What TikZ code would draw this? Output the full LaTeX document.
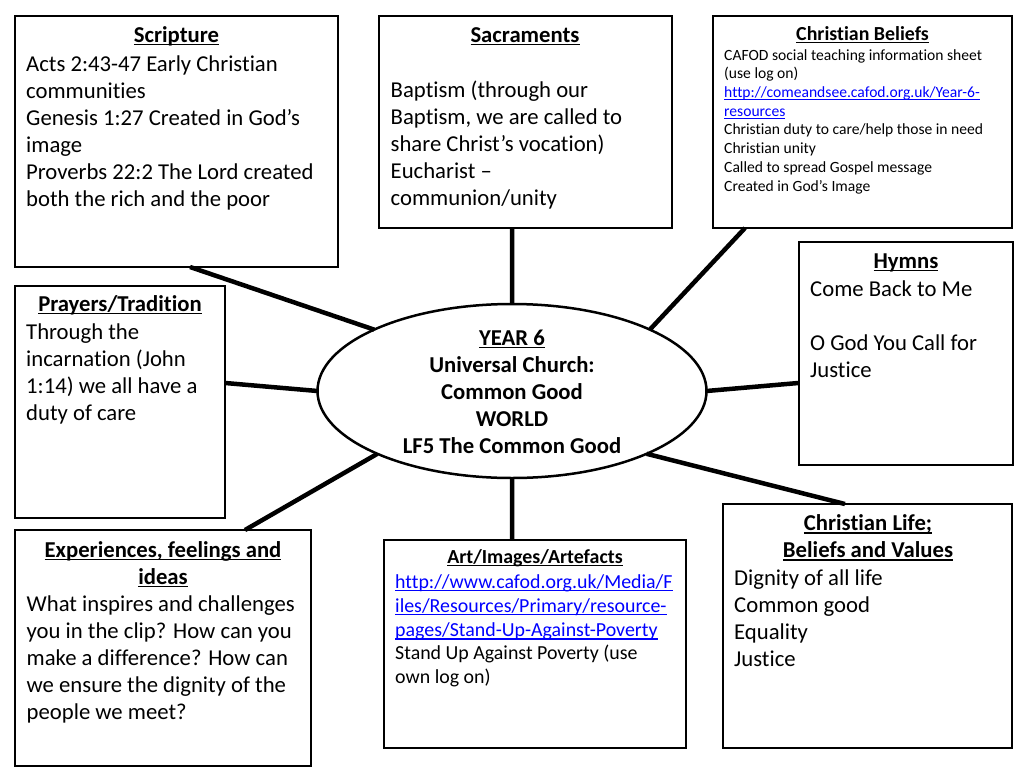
\documentclass[tikz,border=0pt]{standalone}
\usepackage{fontspec}
\setmainfont{Carlito}[Ligatures=NoCommon]
\usetikzlibrary{shapes.geometric,calc}
\definecolor{linkblue}{RGB}{0,0,255}
\newcommand\bigf{\fontsize{22.7}{27.05}\selectfont}
\newcommand\smallf{\fontsize{15.6}{18.7}\selectfont}
\newcommand\linkf{\fontsize{19.9}{24.2}\selectfont}
\newcommand\midf{\fontsize{19.9}{24}\selectfont}
\newcommand\uln[1]{\begingroup\setbox0=\hbox{#1}\rlap{\rule[-2.6pt]{\wd0}{1.3pt}}\box0\endgroup}
\begin{document}
\begin{tikzpicture}[x=1pt,y=-1pt,
  box/.style={draw, line width=2.8pt, fill=white, anchor=north west, inner sep=0, outer sep=0},
  conn/.style={line width=4.5pt},
  ttl/.style={font=\bigf\bfseries, anchor=base, inner sep=0},
  body/.style={font=\bigf, anchor=north west, align=left, inner sep=0},
  ctext/.style={font=\bigf\bfseries, anchor=north, align=center, inner sep=0}]
\fill[white] (0,0) rectangle (1024,768);
\useasboundingbox (0,0) rectangle (1024,768);
% boxes
\node[box, minimum width=323pt, minimum height=251pt] (scr) at (15,16) {};
\node[box, minimum width=293pt, minimum height=212pt] (sac) at (379,16) {};
\node[box, minimum width=299pt, minimum height=212pt] (bel) at (713,16) {};
\node[box, minimum width=214pt, minimum height=223pt] (hym) at (799,242) {};
\node[box, minimum width=210pt, minimum height=232pt] (pra) at (15,286) {};
\node[box, minimum width=296pt, minimum height=236pt] (exp) at (15,530) {};
\node[box, minimum width=302pt, minimum height=208pt] (art) at (384,540) {};
\node[box, minimum width=289pt, minimum height=244pt] (lif) at (723,504) {};
\node[draw, ellipse, line width=2.5pt, fill=white, minimum width=389pt, minimum height=174pt, inner sep=0, outer sep=0] (ell) at (512,391) {};
% connectors
\draw[conn] ($(scr.south west)!0.542!(scr.south east)$) -- (ell.156);
\draw[conn] ($(sac.south west)!0.454!(sac.south east)$) -- (ell.north);
\draw[conn] ($(bel.south west)!0.107!(bel.south east)$) -- (ell.24);
\draw[conn] ($(pra.north east)!0.418!(pra.south east)$) -- (ell.180);
\draw[conn] ($(hym.north west)!0.632!(hym.south west)$) -- (ell.0);
\draw[conn] ($(exp.north west)!0.777!(exp.north east)$) -- (ell.205);
\draw[conn] ($(art.north west)!0.424!(art.north east)$) -- (ell.south);
\draw[conn] ($(lif.north west)!0.422!(lif.north east)$) -- (ell.335);
% Scripture
\node[ttl] (scrt) at (176.5,42.7) {\uln{Scripture}};
\node[body] (scrb) at (26,52.06) {\strut Acts 2:43-47 Early Christian\\communities\\Genesis 1:27 Created in God’s\\image\\Proverbs 22:2 The Lord created\\both the rich and the poor};
% Sacraments
\node[ttl] (sact) at (525,42.7) {\uln{Sacraments}};
\node[body] (sacb) at (390.5,78.4) {\strut Baptism (through our\\Baptism, we are called to\\share Christ’s vocation)\\Eucharist –\\communion/unity};
% Christian Beliefs
\node[ttl, font=\fontsize{19.9}{24}\selectfont\bfseries] (belt) at (862.5,40.5) {\uln{Christian Beliefs}};
\node[body, font=\smallf] (belb) at (724,46.9) {\strut CAFOD social teaching information sheet\\(use log on)\\\textcolor{linkblue}{\uln{http://comeandsee.cafod.org.uk/Year-6-}}\\\textcolor{linkblue}{\uln{resources}}\\Christian duty to care/help those in need\\Christian unity\\Called to spread Gospel message\\Created in God’s Image};
% Hymns
\node[ttl] (hymt) at (906,268.3) {\uln{Hymns}};
\node[body] (hymb) at (810,277.1) {\strut Come Back to Me\\[27.05pt]O God You Call for\\Justice};
% Prayers
\node[ttl] (prat) at (120,311.7) {\uln{Prayers/Tradition}};
\node[body] (prab) at (26,320.1) {\strut Through the\\incarnation (John\\1:14) we all have a\\duty of care};
% Centre
\node[ctext] (ctr) at (512,326.1) {\strut\uln{YEAR 6}\\Universal Church:\\Common Good\\WORLD\\LF5 The Common Good};
% Experiences
\node[ctext] (expt) at (163,538.1) {\strut\uln{Experiences, feelings and}\\\uln{ideas}};
\node[body] (expb) at (26.5,592.1) {\strut What inspires and challenges\\you in the clip? How can you\\make a difference? How can\\we ensure the dignity of the\\people we meet?};
% Art
\node[ttl, font=\fontsize{19.9}{24}\selectfont\bfseries] (artt) at (535,563.3) {\uln{Art/Images/Artefacts}};
\node[body, font=\linkf, text=linkblue] (artl) at (395,571.4) {\strut\uln{http://www.cafod.org.uk/Media/F}\\\uln{iles/Resources/Primary/resource-}\\\uln{pages/Stand-Up-Against-Poverty}};
\node[body, font=\midf] (arts) at (395,642.2) {\strut Stand Up Against Poverty (use\\own log on)};
% Christian Life
\node[ctext] (lift) at (868,511.8) {\strut\uln{Christian Life;}\\\uln{Beliefs and Values}};
\node[body] (lifb) at (734,566.1) {\strut Dignity of all life\\Common good\\Equality\\Justice};
\end{tikzpicture}
\end{document}
